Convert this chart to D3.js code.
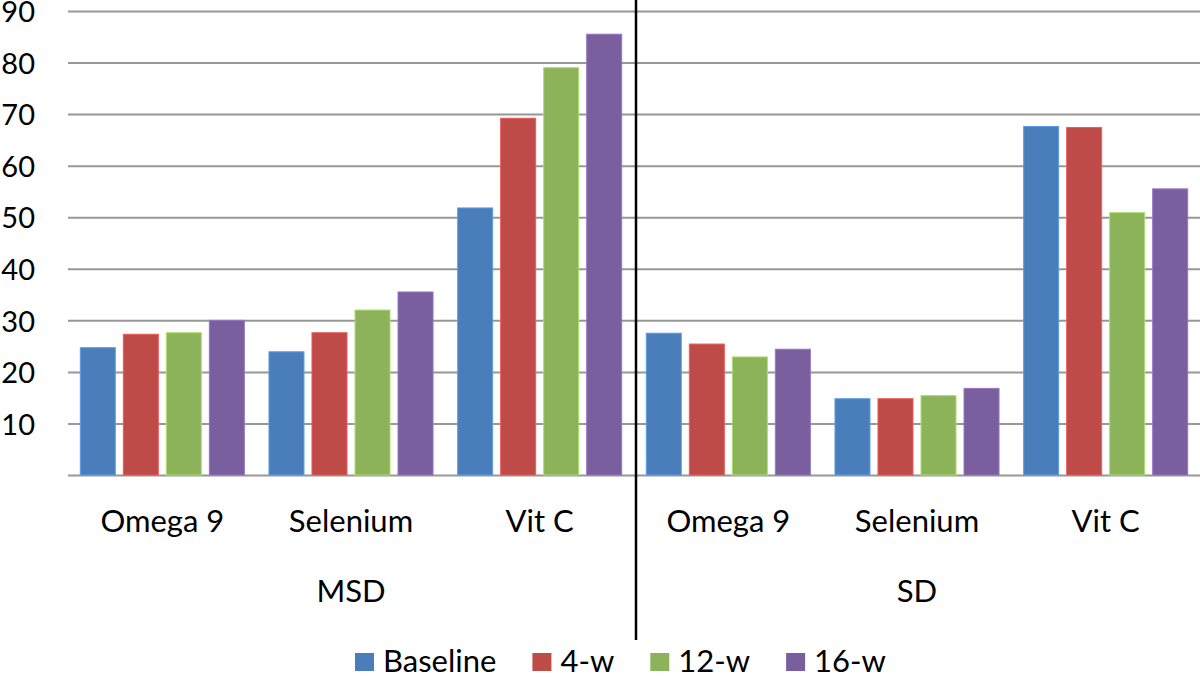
<!DOCTYPE html>
<html>
<head>
<meta charset="utf-8">
<script src="https://cdn.jsdelivr.net/npm/d3@7"></script>
<style>
  body { margin: 0; background: #fff; }
  text { font-family: Lato, "Open Sans", sans-serif; fill: #000; }
</style>
</head>
<body>
<div id="chart"></div>
<script>
const svgWidth = 1200;
const svgHeight = 679;

// data
const groups = ["MSD", "SD"];
const nutrients = ["Omega 9", "Selenium", "Vit C"];
const seriesNames = ["Baseline", "4-w", "12-w", "16-w"];
const baseline = [24.7, 23.9, 51.8, 27.5, 14.8, 67.6];
const week4 = [27.3, 27.6, 69.2, 25.4, 14.8, 67.4];
const week12 = [27.6, 32.0, 79.0, 22.9, 15.4, 50.9];
const week16 = [30.0, 35.5, 85.5, 24.4, 16.8, 55.5];
const yTicks = [0, 10, 20, 30, 40, 50, 60, 70, 80, 90];

const colors = ["#4a7ebb", "#be4b48", "#8db35a", "#7a5f9e"];
const seriesValues = [baseline, week4, week12, week16];

const plot = { left: 68, right: 1200, top: 11, bottom: 475 };
const fontSize = 31;

// categories: one per group/nutrient pair
const cats = [];
groups.forEach(g => nutrients.forEach(n => cats.push({ group: g, name: n, key: g + "|" + n })));

const x0 = d3.scaleBand()
  .domain(cats.map(d => d.key))
  .range([plot.left, plot.right]);

const x1 = d3.scaleBand()
  .domain(seriesNames)
  .range([12.3, x0.bandwidth() - 12.3])
  .paddingInner(0.186);

const y = d3.scaleLinear()
  .domain([0, 90])
  .range([plot.bottom, plot.top]);

const svg = d3.select("#chart")
  .append("svg")
  .attr("width", svgWidth)
  .attr("height", svgHeight);

// y axis with gridlines
const yAxis = svg.append("g")
  .attr("transform", `translate(${plot.left},0)`)
  .call(d3.axisLeft(y)
    .tickValues(yTicks)
    .tickSize(-(plot.right - plot.left))
    .tickPadding(33)
    .tickFormat(d => d === 0 ? "" : d));
yAxis.select(".domain").remove();
yAxis.selectAll(".tick line").attr("stroke", "#979797").attr("stroke-width", 2);
yAxis.selectAll(".tick text")
  .attr("font-size", 29)
  .attr("dy", "0.37em")
  .style("font-family", "Lato, 'Open Sans', sans-serif");

// bars
cats.forEach((c, i) => {
  const g = svg.append("g").attr("transform", `translate(${x0(c.key)},0)`);
  seriesNames.forEach((s, j) => {
    const v = seriesValues[j][i];
    g.append("rect")
      .attr("x", x1(s))
      .attr("y", y(v))
      .attr("width", x1.bandwidth())
      .attr("height", y(0) - y(v))
      .attr("fill", colors[j])
      .attr("stroke", d3.color(colors[j]).brighter(0.6))
      .attr("stroke-width", 1);
  });
});

// bottom category labels
const xAxis = svg.append("g")
  .attr("transform", `translate(0,${plot.bottom})`)
  .call(d3.axisBottom(x0)
    .tickSize(0)
    .tickPadding(35)
    .tickFormat(k => k.split("|")[1]));
xAxis.select(".domain").remove();
xAxis.selectAll(".tick text")
  .attr("font-size", fontSize)
  .style("font-family", "Lato, 'Open Sans', sans-serif");

// group labels
groups.forEach(g => {
  const keys = cats.filter(c => c.group === g).map(c => c.key);
  const start = x0(keys[0]);
  const end = x0(keys[keys.length - 1]) + x0.bandwidth();
  svg.append("text")
    .attr("x", (start + end) / 2)
    .attr("y", 602)
    .attr("text-anchor", "middle")
    .attr("font-size", fontSize)
    .text(g);
});

// divider between groups
const divX = x0(cats[nutrients.length].key) + 2;
svg.append("line")
  .attr("x1", divX).attr("x2", divX)
  .attr("y1", 0).attr("y2", 640)
  .attr("stroke", "#000")
  .attr("stroke-width", 2.5);

// legend
const legend = svg.append("g");
let lx = 355;
seriesNames.forEach((s, j) => {
  legend.append("rect")
    .attr("x", lx)
    .attr("y", 653)
    .attr("width", 19)
    .attr("height", 18)
    .attr("fill", colors[j]);
  const t = legend.append("text")
    .attr("x", lx + 28)
    .attr("y", 672)
    .attr("font-size", fontSize)
    .text(s);
  lx += 28 + t.node().getComputedTextLength() + 36;
});
</script>
</body>
</html>
